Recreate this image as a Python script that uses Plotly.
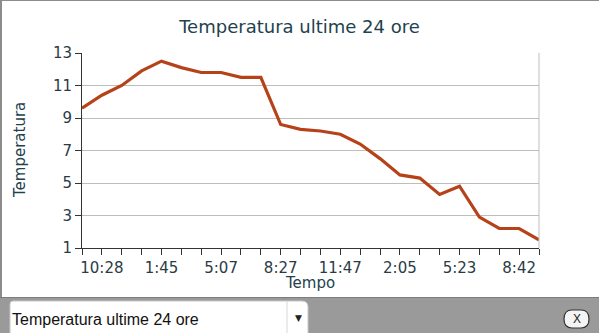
import plotly.graph_objects as go

# ---- data ----
times = ["9:22", "10:28", "11:34", "12:39", "1:45", "2:52", "3:59", "5:07",
         "6:14", "7:20", "8:27", "9:34", "10:40", "11:47", "12:33", "1:19",
         "2:05", "3:11", "4:17", "5:23", "6:29", "7:35", "8:42", "9:48"]
temps = [9.6, 10.4, 11.0, 11.9, 12.5, 12.1, 11.8, 11.8, 11.5, 11.5, 8.6, 8.3,
         8.2, 8.0, 7.4, 6.5, 5.5, 5.3, 4.3, 4.8, 2.9, 2.2, 2.2, 1.5]
y_ticks = [1, 3, 5, 7, 9, 11, 13]
title_text = "Temperatura ultime 24 ore"
x_title = "Tempo"
y_title = "Temperatura"
dropdown_text = "Temperatura ultime 24 ore"

W, H = 599, 333
L, R, T, B = 82, 60, 53, 85
PW, PH = W - L - R, H - T - B


def px(x):
    return (x - L) / PW


def py(y):
    return (H - B - y) / PH


idx = list(range(len(temps)))
ticktext = [t if i % 3 == 1 else "" for i, t in enumerate(times)]

fig = go.Figure()
fig.add_trace(go.Scatter(x=idx, y=temps, mode="lines",
                         line=dict(color="#b6421a", width=3.2),
                         hoverinfo="skip", showlegend=False))

font_main = "DejaVu Sans, Verdana, sans-serif"
fig.update_layout(
    width=W, height=H,
    margin=dict(l=L, r=R, t=T, b=B, pad=0),
    paper_bgcolor="white", plot_bgcolor="white",
    title=dict(text=title_text, x=0.5, xanchor="center",
               y=1 - 27 / H, yanchor="middle",
               font=dict(family=font_main, size=18, color="#1f424e")),
    xaxis=dict(range=[0, len(temps) - 1], tickmode="array", tickvals=idx,
               ticktext=ticktext, ticks="outside", ticklen=6, tickwidth=1,
               tickcolor="#333", showgrid=False, zeroline=False,
               showline=True, linecolor="#333", linewidth=1,
               tickfont=dict(family=font_main, size=15, color="#2b3b45")),
    yaxis=dict(range=[1, 13], tickmode="array", tickvals=y_ticks,
               ticks="outside", ticklen=6, tickwidth=1, tickcolor="#333",
               showgrid=True, gridcolor="#bdbdbd", gridwidth=1,
               zeroline=False, showline=True, linecolor="#333", linewidth=1,
               tickfont=dict(family=font_main, size=15, color="#2b3b45")),
)

shapes = []
# right border of plot
shapes.append(dict(type="line", xref="paper", yref="paper", x0=1, x1=1,
                   y0=0, y1=1, line=dict(color="#bdbdbd", width=1)))
# outer frame: top and left
shapes.append(dict(type="rect", xref="paper", yref="paper",
                   x0=px(-5), x1=px(2), y0=py(340), y1=py(-5),
                   fillcolor="#8c8c8c", line=dict(width=0), layer="above"))
shapes.append(dict(type="rect", xref="paper", yref="paper",
                   x0=px(-5), x1=px(605), y0=py(1), y1=py(-5),
                   fillcolor="#8c8c8c", line=dict(width=0), layer="above"))
# bottom grey bar
shapes.append(dict(type="rect", xref="paper", yref="paper",
                   x0=px(-5), x1=px(605), y0=py(340), y1=py(297),
                   fillcolor="#9a9a9a", line=dict(width=0), layer="above"))
shapes.append(dict(type="line", xref="paper", yref="paper",
                   x0=px(-5), x1=px(605), y0=py(297.5), y1=py(297.5),
                   line=dict(color="#7d7d7d", width=1), layer="above"))
# dropdown box (rounded top corners)
x0d, x1d, y0d, y1d = 10, 308, 301, 340
r = 6
path = (f"M {px(x0d)},{py(y1d)} L {px(x0d)},{py(y0d + 3)} "
        f"Q {px(x0d)},{py(y0d)} {px(x0d + 3)},{py(y0d)} "
        f"L {px(x1d - r)},{py(y0d)} Q {px(x1d)},{py(y0d)} {px(x1d)},{py(y0d + r)} "
        f"L {px(x1d)},{py(y1d)} Z")
shapes.append(dict(type="path", xref="paper", yref="paper", path=path,
                   fillcolor="white", line=dict(color="#c8c8c8", width=1),
                   layer="above"))
shapes.append(dict(type="line", xref="paper", yref="paper",
                   x0=px(287), x1=px(287), y0=py(301), y1=py(340),
                   line=dict(color="#d8d8d8", width=1), layer="above"))
# close button (pill)
bx0, bx1, by0, by1 = 564, 589, 310, 328
rr = 8
pill = (f"M {px(bx0 + rr)},{py(by0)} L {px(bx1 - rr)},{py(by0)} "
        f"Q {px(bx1)},{py(by0)} {px(bx1)},{py((by0 + by1) / 2)} "
        f"Q {px(bx1)},{py(by1)} {px(bx1 - rr)},{py(by1)} "
        f"L {px(bx0 + rr)},{py(by1)} "
        f"Q {px(bx0)},{py(by1)} {px(bx0)},{py((by0 + by1) / 2)} "
        f"Q {px(bx0)},{py(by0)} {px(bx0 + rr)},{py(by0)} Z")
shapes.append(dict(type="path", xref="paper", yref="paper", path=pill,
                   fillcolor="#f4f4f4", line=dict(color="#333", width=1.2),
                   layer="above"))
fig.update_layout(shapes=shapes)

ann = []
ann.append(dict(text=x_title, xref="paper", yref="paper", x=px(310), y=py(283),
                xanchor="center", yanchor="middle", showarrow=False,
                font=dict(family=font_main, size=15, color="#22414d")))
ann.append(dict(text=y_title, xref="paper", yref="paper", x=px(20), y=py(150),
                xanchor="center", yanchor="middle", showarrow=False,
                textangle=-90,
                font=dict(family=font_main, size=15, color="#22414d")))
ann.append(dict(text=dropdown_text, xref="paper", yref="paper", x=px(10),
                y=py(319), xanchor="left", yanchor="middle", showarrow=False,
                font=dict(family="Liberation Sans, Arial, sans-serif", size=16,
                          color="#111")))
ann.append(dict(text="▼", xref="paper", yref="paper", x=px(298), y=py(318),
                xanchor="center", yanchor="middle", showarrow=False,
                font=dict(family="DejaVu Sans", size=9, color="#222")))
ann.append(dict(text="X", xref="paper", yref="paper", x=px(576.5), y=py(319),
                xanchor="center", yanchor="middle", showarrow=False,
                font=dict(family="Liberation Sans, Arial, sans-serif", size=12,
                          color="#222")))
fig.update_layout(annotations=ann)

fig.write_html("out.html", config={"displayModeBar": False})
